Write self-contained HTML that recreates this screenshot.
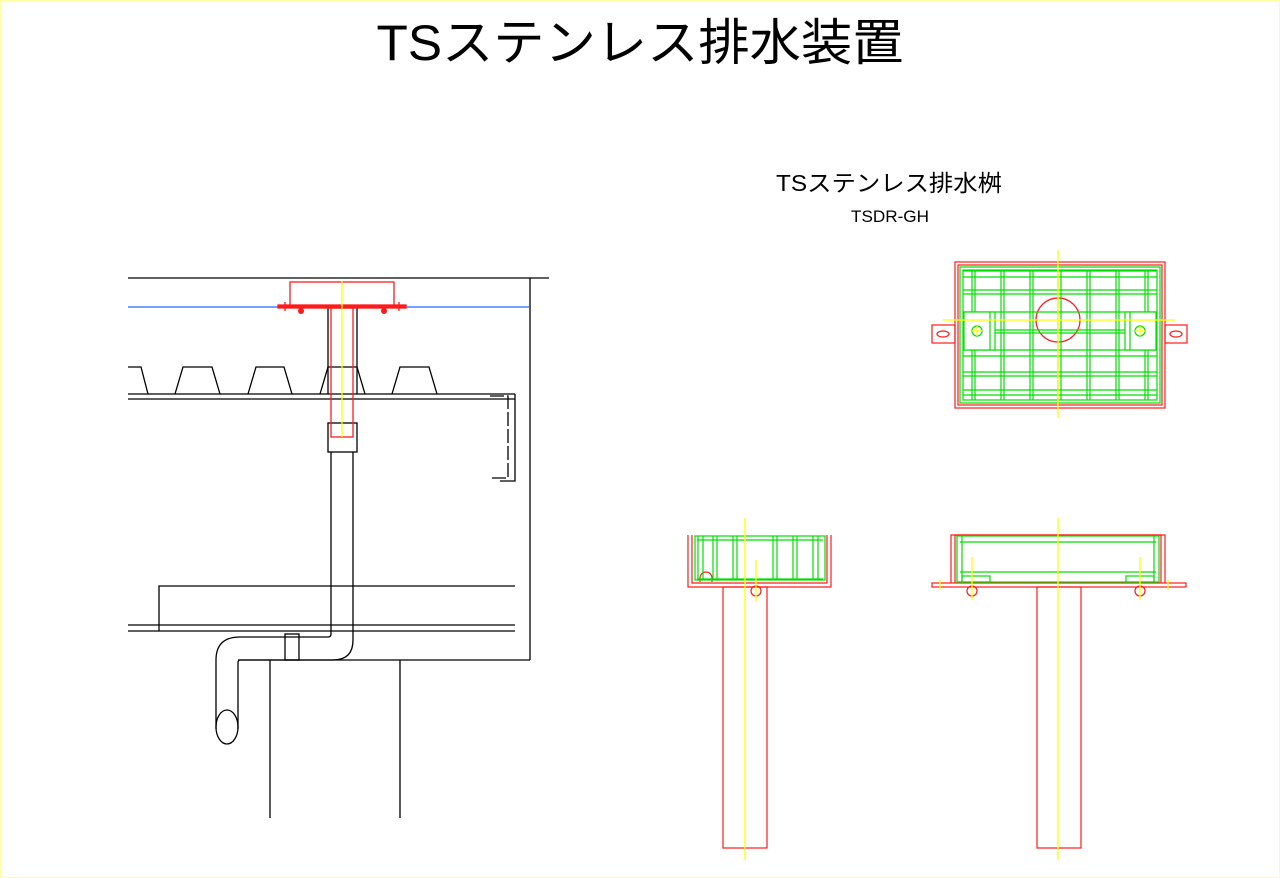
<!DOCTYPE html>
<html><head><meta charset="utf-8"><style>
html,body{margin:0;padding:0;background:#fff;}
svg{display:block;}
</style></head><body>
<svg width="1280" height="878" viewBox="0 0 1280 878" xmlns="http://www.w3.org/2000/svg">
<rect x="0.5" y="0.5" width="1279" height="877" fill="#fff" stroke="#ffffa0"/>
<text x="640" y="60" font-family="Liberation Sans, Noto Sans CJK JP, sans-serif" font-size="50" text-anchor="middle" fill="#000" textLength="527" lengthAdjust="spacingAndGlyphs">TSステンレス排水装置</text>
<text x="889" y="191" font-family="Liberation Sans, Noto Sans CJK JP, sans-serif" font-size="23" text-anchor="middle" fill="#000" textLength="226" lengthAdjust="spacingAndGlyphs">TSステンレス排水桝</text>
<text x="890" y="222" font-family="Liberation Sans, sans-serif" font-size="17" text-anchor="middle" fill="#000" textLength="78" lengthAdjust="spacingAndGlyphs">TSDR-GH</text>

<!-- LEFT DRAWING -->
<g fill="none" stroke="#000" stroke-width="1.3">
<line x1="128" y1="278" x2="549" y2="278"/>
<line x1="530" y1="278" x2="530" y2="660"/>
<!-- deck -->
<path d="M128 367 H141 L148 394 M175 394 L183 367 H212 L220 394 M248 394 L256 367 H284 L292 394 M320 394 L328 367 H357 L365 394 M392 394 L400 367 H429 L437 394"/>
<line x1="128" y1="394" x2="515" y2="394"/>
<line x1="128" y1="399" x2="515" y2="399"/>
<line x1="515" y1="394" x2="515" y2="399"/>
<path d="M490 396 H508 V478 H490" stroke-dasharray="14 3"/>
<path d="M515 399 V481 H500" />
<!-- pipe upper -->
<line x1="328" y1="308" x2="328" y2="394"/>
<line x1="357" y1="308" x2="357" y2="394"/>
<rect x="328" y="423" width="29" height="29"/>
<!-- pipe lower -->
<path d="M331 452 V634 Q331 637 328 637 H240 Q216 637 216 660 V729"/>
<path d="M353 452 V640 Q353 660 333 660 H240 Q238 660 238 663 V729"/>
<ellipse cx="227" cy="727" rx="11" ry="17"/>
<rect x="285" y="634" width="14" height="26"/>
<!-- beams -->
<path d="M159 631 V586 H515"/>
<line x1="128" y1="625" x2="515" y2="625"/>
<line x1="128" y1="631" x2="515" y2="631"/>
<line x1="238" y1="660" x2="530" y2="660"/>
<line x1="270" y1="660" x2="270" y2="818"/>
<line x1="400" y1="660" x2="400" y2="818"/>
</g>
<line x1="128" y1="307" x2="530" y2="307" stroke="#1e6bff" stroke-width="1.3"/>
<g fill="none" stroke="#ff1a1a" stroke-width="1.3">
<rect x="290" y="282" width="104" height="24"/>
<rect x="278" y="305" width="128" height="3" fill="#ff1a1a"/>
<line x1="285" y1="302" x2="285" y2="311"/>
<line x1="399" y1="302" x2="399" y2="311"/>
<rect x="331" y="308" width="22" height="129"/>
</g>
<circle cx="301" cy="311" r="3" fill="#ff1a1a"/>
<circle cx="384" cy="311" r="3" fill="#ff1a1a"/>
<line x1="342" y1="281" x2="342" y2="437" stroke="#ffff00" stroke-width="1.3"/>

<!-- TOP VIEW -->
<g fill="none" stroke="#ff1a1a" stroke-width="1.2">
<rect x="955" y="262" width="210" height="146"/>
<rect x="958" y="265" width="204" height="140"/>
<rect x="932" y="325" width="23" height="18"/>
<rect x="1165" y="325" width="22" height="18"/>
<ellipse cx="943" cy="334" rx="6" ry="3"/>
<ellipse cx="1176" cy="334" rx="6" ry="3"/>
<circle cx="1058" cy="320" r="22"/>
</g>
<g fill="none" stroke="#00e000" stroke-width="1.2">
<rect x="960" y="267" width="200" height="136"/>
<rect x="963" y="270" width="194" height="130"/>
<path d="M972 270V400M975 270V400M1001 270V400M1004 270V400M1030 270V400M1033 270V400M1058 270V400M1061 270V400M1087 270V400M1090 270V400M1116 270V400M1119 270V400M1145 270V400M1148 270V400"/>
<path d="M963 271H1157M963 277H1157M963 290H1157M963 294H1157M963 312H1157M963 330H1157M963 333H1157M963 350H1157M963 356H1157M963 372H1157M963 376H1157M963 390H1157M963 395H1157"/>
<rect x="964" y="312" width="31" height="38" fill="#fff"/>
<rect x="1125" y="312" width="31" height="38" fill="#fff"/>
<line x1="990" y1="312" x2="990" y2="350"/>
<line x1="1130" y1="312" x2="1130" y2="350"/>
<circle cx="977" cy="331" r="5"/>
<circle cx="1140" cy="331" r="5"/>
</g>
<g stroke="#ffff00" stroke-width="1.3">
<line x1="1058" y1="250" x2="1058" y2="418"/>
<line x1="943" y1="320" x2="1175" y2="320"/>
<line x1="972" y1="331" x2="982" y2="331"/><line x1="977" y1="326" x2="977" y2="336"/>
<line x1="1135" y1="331" x2="1145" y2="331"/><line x1="1140" y1="326" x2="1140" y2="336"/>
</g>

<!-- SIDE VIEW LEFT -->
<g fill="none" stroke="#ff1a1a" stroke-width="1.2">
<path d="M688 535 V587 H831 V535"/>
<path d="M692 535 V583 H827 V535"/>
<rect x="723" y="587" width="44" height="261"/>
<path d="M700 582 V578 A6 6 0 0 1 712 578 V582"/>
<circle cx="756" cy="591" r="5"/>
</g>
<g fill="none" stroke="#00e000" stroke-width="1.2">
<rect x="695" y="536" width="130" height="44"/>
<path d="M697 540H823M697 579H823M698 536V580M703 536V580M713 536V580M717 536V580M733 536V580M737 536V580M773 536V580M777 536V580M793 536V580M797 536V580M813 536V580M818 536V580"/>
</g>
<line x1="745" y1="518" x2="745" y2="860" stroke="#ffff00" stroke-width="1.3"/>
<line x1="756" y1="560" x2="756" y2="602" stroke="#ffff00" stroke-width="1.3"/>

<!-- SIDE VIEW RIGHT -->
<g fill="none" stroke="#ff1a1a" stroke-width="1.2">
<path d="M951 583 V535 H1165 V583"/>
<path d="M955 583 V535 H1161 V583"/>
<rect x="932" y="583" width="254" height="4"/>
<rect x="1037" y="587" width="44" height="261"/>
<circle cx="972" cy="591" r="5"/>
<circle cx="1140" cy="591" r="5"/>
</g>
<g fill="none" stroke="#00e000" stroke-width="1.2">
<rect x="957" y="536" width="202" height="46"/>
<line x1="960" y1="542" x2="1156" y2="542"/>
<line x1="960" y1="572" x2="1156" y2="572"/>
<line x1="962" y1="536" x2="962" y2="582"/>
<line x1="1154" y1="536" x2="1154" y2="582"/>
<rect x="962" y="576" width="28" height="6"/>
<rect x="1126" y="576" width="28" height="6"/>
</g>
<g stroke="#ffff00" stroke-width="1.3">
<line x1="1058" y1="518" x2="1058" y2="860"/>
<line x1="972" y1="557" x2="972" y2="600"/>
<line x1="1140" y1="557" x2="1140" y2="600"/>
<line x1="940" y1="580" x2="940" y2="590"/>
<line x1="1168" y1="580" x2="1168" y2="590"/>
</g>
</svg>
</body></html>
